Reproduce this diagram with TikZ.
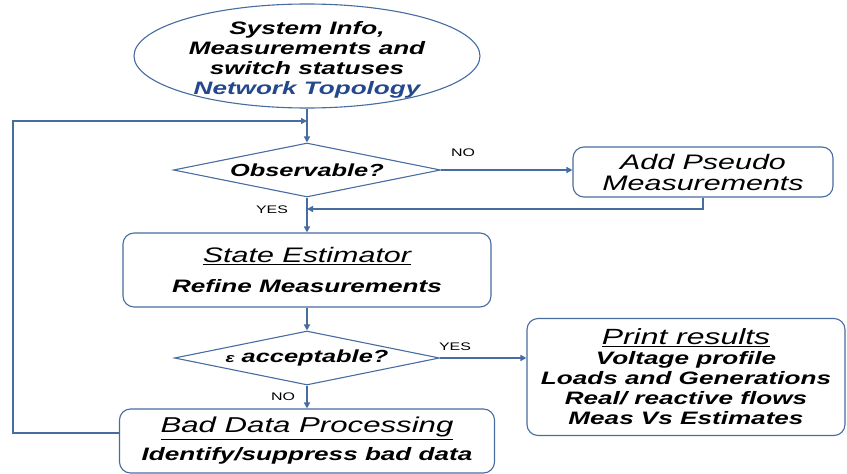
\documentclass[tikz,border=0pt]{standalone}
\usepackage{fontspec}
\setmainfont{Liberation Sans}[FakeStretch=1.45]
\usetikzlibrary{shapes.geometric,arrows.meta}

\definecolor{flowblue}{RGB}{70,108,160}
\definecolor{topoblue}{RGB}{35,72,140}

\tikzset{
  flowline/.style={draw=flowblue, line width=1.4pt},
  flowarrow/.style={flowline, -{Triangle[length=6pt,width=6pt]}},
  procbox/.style={draw=flowblue, line width=1.1pt, rounded corners=11pt, inner sep=0pt},
  decision/.style={diamond, draw=flowblue, line width=1.1pt, inner sep=0pt, aspect=5,
    font=\bfseries\itshape\fontsize{17.5}{20}\selectfont},
  infoball/.style={ellipse, draw=flowblue, line width=1.1pt, inner sep=0pt},
  boxtext/.style={font=\bfseries\itshape\fontsize{18}{20}\selectfont, align=center},
  branch/.style={font=\fontsize{11}{12}\selectfont, inner sep=0pt}
}

\begin{document}
\begin{tikzpicture}[x=1pt,y=-1pt]
  \useasboundingbox (0,0) rectangle (847,474);

  % System data
  \node[infoball, minimum width=346pt, minimum height=104pt] (info) at (307,56) {};
  \node[boxtext] (infotext) at (307,60) {System Info,\\Measurements and\\switch statuses\\\textcolor{topoblue}{Network Topology}};

  % Observability
  \node[decision, minimum width=267pt, minimum height=54pt] (obs) at (307,170) {Observable?};
  \node[procbox, minimum width=260pt, minimum height=50pt, align=center,
    font=\itshape\fontsize{21}{21}\selectfont] (pseudo) at (703,172) {Add Pseudo\\Measurements};

  % Estimation
  \node[procbox, boxtext, minimum width=368pt, minimum height=74pt] (est) at (307,270)
    {{\mdseries\fontsize{21}{21}\selectfont\underline{State Estimator}}\\[10pt]Refine Measurements};
  \node[decision, minimum width=265pt, minimum height=54pt] (acc) at (307,358)
    {{\fontsize{13}{13}\selectfont ε} acceptable?};

  % Results
  \node[procbox, boxtext, minimum width=318pt, minimum height=117pt] (print) at (686,377)
    {{\mdseries\fontsize{22}{20}\selectfont\underline{Print results}}\\Voltage profile\\Loads and Generations\\Real/ reactive flows\\Meas Vs Estimates};

  % Bad data
  \node[procbox, boxtext, minimum width=375pt, minimum height=64pt] (bad) at (307,441)
    {{\mdseries\fontsize{21.5}{21}\selectfont\underline{Bad Data Processing}}\\[8pt]Identify/suppress bad data};

  % Branch labels
  \node[branch] (obsno) at (463,153) {NO};
  \node[branch] (obsyes) at (272,210) {YES};
  \node[branch] (accyes) at (455,347) {YES};
  \node[branch] (accno) at (283,397) {NO};

  % Connectors
  \coordinate (looptop) at (307,121);
  \coordinate (loopcorner) at (13,433);
  \coordinate (rejoin) at (307,209);
  \draw[flowarrow] (info) -- (obs);
  \draw[flowarrow] (obs) -- (est);
  \draw[flowarrow] (est) -- (acc);
  \draw[flowarrow] (acc) -- (bad);
  \draw[flowarrow] (obs.east) -- (obs.east -| pseudo.west);
  \draw[flowarrow] (pseudo.south) |- (rejoin);
  \draw[flowarrow] (acc.east) -- (acc.east -| print.west);
  \draw[flowarrow] (bad.west |- loopcorner) -- (loopcorner) |- (looptop);
\end{tikzpicture}
\end{document}
